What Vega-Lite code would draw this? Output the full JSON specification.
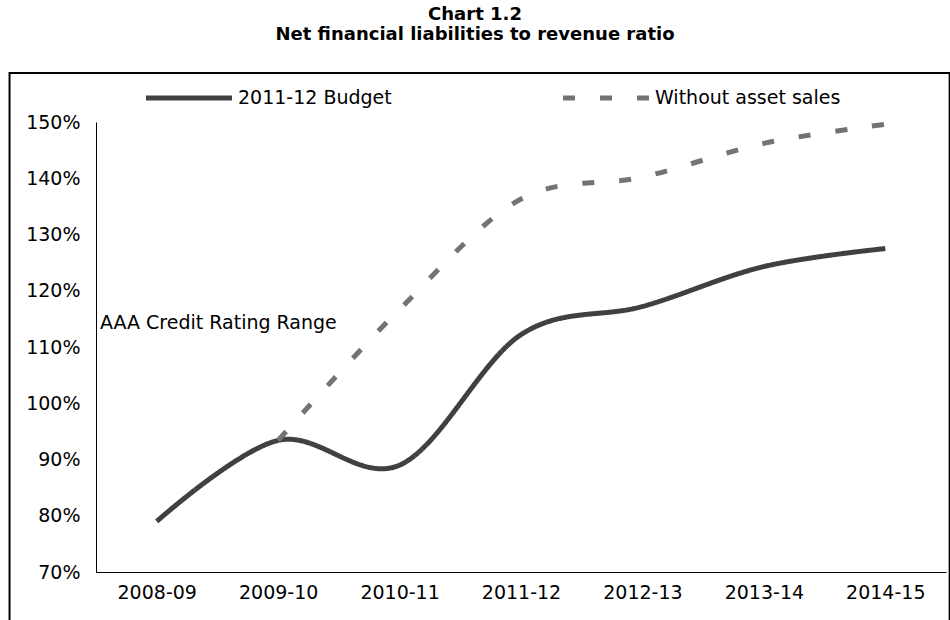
{
  "$schema": "https://vega.github.io/schema/vega-lite/v6.json",
  "width": 850,
  "height": 450,
  "autosize": {"type": "none"},
  "padding": {"left": 96, "top": 122, "right": 4, "bottom": 48},
  "background": "white",
  "config": {"view": {"stroke": null}, "font": "DejaVu Sans"},
  "title": {
    "text": ["Chart 1.2", "Net financial liabilities to revenue ratio"],
    "font": "DejaVu Sans",
    "fontSize": 18,
    "fontWeight": "bold",
    "color": "black",
    "anchor": "middle",
    "frame": "group",
    "dx": -46,
    "offset": 8,
    "lineHeight": 20
  },
  "data": {
    "values": [
      {"i": 0, "year": "2008-09", "series": "2011-12 Budget", "v": 79.0},
      {"i": 1, "year": "2009-10", "series": "2011-12 Budget", "v": 93.4},
      {"i": 2, "year": "2010-11", "series": "2011-12 Budget", "v": 89.0},
      {"i": 3, "year": "2011-12", "series": "2011-12 Budget", "v": 112.2},
      {"i": 4, "year": "2012-13", "series": "2011-12 Budget", "v": 117.2},
      {"i": 5, "year": "2013-14", "series": "2011-12 Budget", "v": 124.3},
      {"i": 6, "year": "2014-15", "series": "2011-12 Budget", "v": 127.5},
      {"i": 1, "year": "2009-10", "series": "Without asset sales", "v": 93.4},
      {"i": 2, "year": "2010-11", "series": "Without asset sales", "v": 116.7},
      {"i": 3, "year": "2011-12", "series": "Without asset sales", "v": 136.3},
      {"i": 4, "year": "2012-13", "series": "Without asset sales", "v": 140.2},
      {"i": 5, "year": "2013-14", "series": "Without asset sales", "v": 146.2},
      {"i": 6, "year": "2014-15", "series": "Without asset sales", "v": 149.6}
    ]
  },
  "layer": [
    {
      "data": {"values": [{}]},
      "mark": {"type": "rect", "fill": null, "stroke": "black", "strokeWidth": 2, "clip": false},
      "encoding": {
        "x": {"datum": -1.212, "type": "quantitative", "scale": {"domain": [-0.5, 6.5], "nice": false, "zero": false}},
        "x2": {"datum": 6.53},
        "y": {"datum": 158.7, "type": "quantitative", "scale": {"domain": [70, 150], "nice": false, "zero": false}},
        "y2": {"datum": 55}
      }
    },
    {
      "mark": {"type": "line", "interpolate": "cardinal", "tension": 0, "strokeWidth": 5, "strokeCap": "butt", "clip": false},
      "encoding": {
        "x": {
          "field": "i",
          "type": "quantitative",
          "scale": {"domain": [-0.5, 6.5], "nice": false, "zero": false},
          "axis": {
            "title": null,
            "values": [0, 1, 2, 3, 4, 5, 6],
            "labelExpr": "['2008-09','2009-10','2010-11','2011-12','2012-13','2013-14','2014-15'][datum.value]",
            "ticks": false,
            "grid": false,
            "domainColor": "black",
            "domainWidth": 1,
            "labelFont": "DejaVu Sans",
            "labelFontSize": 19,
            "labelColor": "black",
            "labelPadding": 11
          }
        },
        "y": {
          "field": "v",
          "type": "quantitative",
          "scale": {"domain": [70, 150], "nice": false, "zero": false},
          "axis": {
            "title": null,
            "values": [70, 80, 90, 100, 110, 120, 130, 140, 150],
            "labelExpr": "datum.value + '%'",
            "ticks": false,
            "grid": false,
            "domainColor": "black",
            "domainWidth": 1,
            "labelFont": "DejaVu Sans",
            "labelFontSize": 19,
            "labelColor": "black",
            "labelPadding": 16
          }
        },
        "color": {
          "field": "series",
          "type": "nominal",
          "scale": {"domain": ["2011-12 Budget", "Without asset sales"], "range": ["#404040", "#737373"]},
          "legend": {
            "title": null,
            "orient": "none",
            "legendX": 47,
            "legendY": -70,
            "direction": "horizontal",
            "symbolType": "stroke",
            "symbolSize": 7400,
            "symbolStrokeWidth": 5,
            "labelFont": "DejaVu Sans",
            "labelFontSize": 19,
            "labelColor": "black",
            "labelOffset": 3,
            "labelLimit": 400,
            "columnPadding": 160
          }
        },
        "strokeDash": {
          "field": "series",
          "type": "nominal",
          "scale": {"domain": ["2011-12 Budget", "Without asset sales"], "range": [[1, 0], [12, 25]]},
          "legend": {
            "title": null,
            "orient": "none",
            "legendX": 47,
            "legendY": -70,
            "direction": "horizontal",
            "symbolType": "stroke",
            "symbolSize": 7400,
            "symbolStrokeWidth": 5,
            "labelFont": "DejaVu Sans",
            "labelFontSize": 19,
            "labelColor": "black",
            "labelOffset": 3,
            "labelLimit": 400,
            "columnPadding": 160
          }
        }
      }
    },
    {
      "data": {"values": [{"t": "AAA Credit Rating Range"}]},
      "mark": {"type": "text", "align": "left", "baseline": "middle", "font": "DejaVu Sans", "fontSize": 19, "color": "black"},
      "encoding": {
        "text": {"field": "t"},
        "x": {"datum": -0.467, "type": "quantitative", "scale": {"domain": [-0.5, 6.5], "nice": false, "zero": false}},
        "y": {"datum": 114.3, "type": "quantitative", "scale": {"domain": [70, 150], "nice": false, "zero": false}}
      }
    }
  ]
}
